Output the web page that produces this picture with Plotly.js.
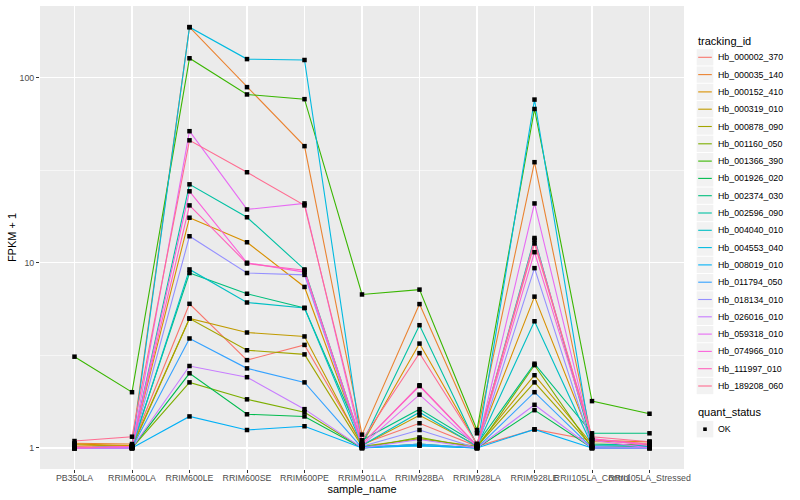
<!DOCTYPE html>
<html>
<head>
<meta charset="utf-8">
<script src="https://cdn.plot.ly/plotly-3.0.1.min.js"></script>
<style>html,body{margin:0;padding:0;background:#fff;}#chart{width:800px;height:500px;}</style>
</head>
<body>
<div id="chart"></div>
<script>
const categories = ['PB350LA','RRIM600LA','RRIM600LE','RRIM600SE','RRIM600PE','RRIM901LA','RRIM928BA','RRIM928LA','RRIM928LE','RRII105LA_Control','RRII105LA_Stressed'];

const trackingIds = ['Hb_000002_370','Hb_000035_140','Hb_000152_410','Hb_000319_010','Hb_000878_090','Hb_001160_050','Hb_001366_390','Hb_001926_020','Hb_002374_030','Hb_002596_090','Hb_004040_010','Hb_004553_040','Hb_008019_010','Hb_011794_050','Hb_018134_010','Hb_026016_010','Hb_059318_010','Hb_074966_010','Hb_111997_010','Hb_189208_060'];

const seriesColors = ['#F8766D','#EA8331','#D89000','#C09B00','#A3A500','#7CAE00','#39B600','#00BB4E','#00BF7D','#00C1A3','#00BFC4','#00BAE0','#00B0F6','#35A2FF','#9590FF','#C77CFF','#E76BF3','#FA62DB','#FF62BC','#FF6C91'];

const quantStatus = ['OK'];

// FPKM + 1 values, one array per tracking_id, in category order
const hb_000002_370 = [1.02, 1.03, 6.0, 2.98, 3.6, 1.05, 1.36, 1.02, 1.26, 1.1, 1.05];
const hb_000035_140 = [1.06, 1.05, 187, 88.7, 42.6, 1.18, 5.98, 1.2, 34.9, 1.1, 1.08];
const hb_000152_410 = [1.05, 1.03, 17.5, 12.9, 7.4, 1.05, 3.66, 1.05, 6.56, 1.08, 1.08];
const hb_000319_010 = [1.04, 1.02, 5.0, 4.2, 4.0, 1.03, 1.5, 1.03, 2.47, 1.05, 1.04];
const hb_000878_090 = [1.0, 1.0, 5.0, 3.37, 3.2, 1.02, 1.12, 1.02, 2.26, 1.02, 1.02];
const hb_001160_050 = [1.0, 1.0, 2.26, 1.83, 1.56, 1.0, 1.14, 1.0, 2.8, 1.0, 1.0];
const hb_001366_390 = [3.11, 2.0, 127, 81, 76.4, 6.74, 7.16, 1.25, 67.6, 1.79, 1.53];
const hb_001926_020 = [1.0, 1.0, 2.53, 1.52, 1.48, 1.0, 1.05, 1.0, 1.6, 1.0, 1.0];
const hb_002374_030 = [1.0, 1.02, 8.8, 6.8, 5.7, 1.1, 1.62, 1.05, 2.85, 1.2, 1.2];
const hb_002596_090 = [1.0, 1.02, 26.5, 17.6, 9.2, 1.05, 4.6, 1.03, 13.6, 1.05, 1.03];
const hb_004040_010 = [1.0, 1.0, 9.2, 6.1, 5.7, 1.03, 1.56, 1.02, 4.83, 1.03, 1.02];
const hb_004553_040 = [1.0, 1.0, 187, 125.7, 124.3, 1.02, 1.03, 1.0, 76, 1.0, 1.0];
const hb_008019_010 = [1.0, 1.0, 1.48, 1.25, 1.31, 1.0, 1.03, 1.0, 1.26, 1.0, 1.0];
const hb_011794_050 = [1.0, 1.0, 3.9, 2.69, 2.26, 1.0, 1.05, 1.0, 2.0, 1.0, 1.0];
const hb_018134_010 = [1.0, 1.0, 13.9, 8.8, 8.6, 1.02, 1.25, 1.0, 9.35, 1.02, 1.0];
const hb_026016_010 = [1.0, 1.0, 2.77, 2.41, 1.62, 1.0, 1.11, 1.0, 1.71, 1.0, 1.0];
const hb_059318_010 = [1.0, 1.0, 51.3, 19.4, 20.9, 1.03, 1.94, 1.02, 20.9, 1.1, 1.0];
const hb_074966_010 = [1.0, 1.02, 24.3, 10.0, 8.9, 1.05, 2.16, 1.03, 11.4, 1.12, 1.03];
const hb_111997_010 = [1.0, 1.02, 20.4, 9.9, 9.1, 1.05, 2.18, 1.03, 13.3, 1.12, 1.05];
const hb_189208_060 = [1.09, 1.15, 45.8, 30.8, 20.4, 1.1, 3.25, 1.05, 12.7, 1.15, 1.08];

const seriesValues = [hb_000002_370, hb_000035_140, hb_000152_410, hb_000319_010, hb_000878_090, hb_001160_050, hb_001366_390, hb_001926_020, hb_002374_030, hb_002596_090, hb_004040_010, hb_004553_040, hb_008019_010, hb_011794_050, hb_018134_010, hb_026016_010, hb_059318_010, hb_074966_010, hb_111997_010, hb_189208_060];

const yTicks = [1, 10, 100];
const yTickText = ['1', '10', '100'];
const yMinor = [Math.sqrt(10), Math.sqrt(1000)];

const traces = [];
trackingIds.forEach((id, i) => {
  traces.push({
    type: 'scatter', mode: 'lines', name: id,
    x: categories, y: seriesValues[i],
    line: {color: seriesColors[i], width: 1.1},
    showlegend: false, hoverinfo: 'skip'
  });
});
const allX = [], allY = [];
seriesValues.forEach(v => { v.forEach((y, j) => { allX.push(categories[j]); allY.push(y); }); });
traces.push({
  type: 'scatter', mode: 'markers', name: quantStatus[0],
  x: allX, y: allY,
  marker: {symbol: 'square', size: 4.5, color: '#000000'},
  showlegend: false, hoverinfo: 'skip'
});

// plot-area geometry (pixels) used to place the hand-built legend
const M = {l: 40, r: 116, t: 6, b: 31, W: 800, H: 500};
const PW = M.W - M.l - M.r, PH = M.H - M.t - M.b;
const px = x => (x - M.l) / PW;
const py = y => (M.H - M.b - y) / PH;

const fam = '"Liberation Sans", Arial, sans-serif';
const shapes = [], annotations = [];
const keyL = 696.7, keyR = 713.3, step = 17.3, firstY = 57.3, textX = 715.5;

annotations.push({xref: 'paper', yref: 'paper', x: px(695.5), y: py(40.7), xanchor: 'left', yanchor: 'middle',
  text: 'tracking_id', showarrow: false, font: {family: fam, size: 11, color: '#000'}});
trackingIds.forEach((id, i) => {
  const cy = firstY + i * step;
  shapes.push({type: 'rect', xref: 'paper', yref: 'paper', x0: px(keyL), x1: px(keyR), y0: py(cy - step / 2 + 0.5), y1: py(cy + step / 2 - 0.5),
    fillcolor: '#F2F2F2', line: {width: 0}, layer: 'below'});
  shapes.push({type: 'line', xref: 'paper', yref: 'paper', x0: px(keyL + 1.5), x1: px(keyR - 1.5), y0: py(cy), y1: py(cy),
    line: {color: seriesColors[i], width: 1.1}});
  annotations.push({xref: 'paper', yref: 'paper', x: px(textX), y: py(cy), xanchor: 'left', yanchor: 'middle',
    text: id, showarrow: false, font: {family: fam, size: 8.8, color: '#000'}});
});
annotations.push({xref: 'paper', yref: 'paper', x: px(695.5), y: py(412.3), xanchor: 'left', yanchor: 'middle',
  text: 'quant_status', showarrow: false, font: {family: fam, size: 11, color: '#000'}});
const okY = 429.2;
shapes.push({type: 'rect', xref: 'paper', yref: 'paper', x0: px(keyL), x1: px(keyR), y0: py(okY - 8.2), y1: py(okY + 8.2),
  fillcolor: '#F2F2F2', line: {width: 0}, layer: 'below'});
shapes.push({type: 'rect', xref: 'paper', yref: 'paper', x0: px(703.2), x1: px(706.8), y0: py(okY - 1.8), y1: py(okY + 1.8),
  fillcolor: '#000', line: {width: 0}});
annotations.push({xref: 'paper', yref: 'paper', x: px(textX), y: py(okY), xanchor: 'left', yanchor: 'middle',
  text: quantStatus[0], showarrow: false, font: {family: fam, size: 8.8, color: '#000'}});

const layout = {
  width: 800, height: 500,
  margin: {l: M.l, r: M.r, t: M.t, b: M.b},
  paper_bgcolor: '#FFFFFF', plot_bgcolor: '#EBEBEB',
  font: {family: fam, color: '#000'},
  showlegend: false,
  xaxis: {
    type: 'category', range: [-0.6, 10.6],
    showgrid: true, gridcolor: '#FFFFFF', gridwidth: 1.1,
    zeroline: false, showline: false,
    ticks: 'outside', ticklen: 3, tickwidth: 1, tickcolor: '#333333',
    tickangle: 0, ticklabelstandoff: -3,
    tickfont: {family: fam, size: 8.8, color: '#4D4D4D'},
    title: {text: 'sample_name', font: {family: fam, size: 11, color: '#000'}, standoff: 0},
    automargin: false, fixedrange: true
  },
  yaxis: {
    type: 'log', range: [-0.1136, 2.386],
    tickvals: yTicks, ticktext: yTickText,
    showgrid: true, gridcolor: '#FFFFFF', gridwidth: 1.1,
    minor: {tickvals: yMinor, showgrid: true, gridcolor: '#FFFFFF', gridwidth: 0.55, ticks: ''},
    zeroline: false, showline: false,
    ticks: 'outside', ticklen: 3, tickwidth: 1, tickcolor: '#333333',
    tickfont: {family: fam, size: 8.8, color: '#4D4D4D'},
    title: {text: 'FPKM + 1', font: {family: fam, size: 11, color: '#000'}, standoff: 0},
    automargin: false, fixedrange: true
  },
  shapes: shapes,
  annotations: annotations
};

Plotly.newPlot('chart', traces, layout, {staticPlot: true, displayModeBar: false});
</script>
</body>
</html>
